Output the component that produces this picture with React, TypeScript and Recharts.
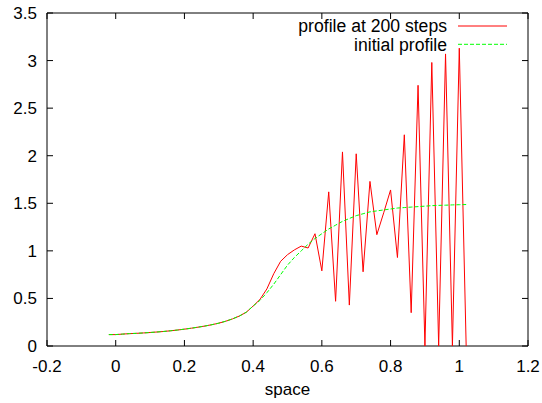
import React from "react";
import { LineChart, Line, XAxis, YAxis, ReferenceArea, Legend } from "recharts";

// ---- data ----
const xs = [
  -0.02, 0.0, 0.02, 0.04, 0.06, 0.08, 0.1, 0.12, 0.14, 0.16, 0.18, 0.2, 0.22, 0.24,
  0.26, 0.28, 0.3, 0.32, 0.34, 0.36, 0.38, 0.4, 0.42, 0.44, 0.46, 0.48, 0.5, 0.52,
  0.54, 0.56, 0.58, 0.6, 0.62, 0.64, 0.66, 0.68, 0.7, 0.72, 0.74, 0.76, 0.78, 0.8,
  0.82, 0.84, 0.86, 0.88, 0.9, 0.92, 0.94, 0.96, 0.98, 1.0, 1.02,
];

const profile200 = [
  0.12, 0.12, 0.125, 0.13, 0.133, 0.137, 0.142, 0.147, 0.153, 0.16, 0.168, 0.177, 0.187, 0.198,
  0.21, 0.224, 0.24, 0.26, 0.285, 0.315, 0.355, 0.42, 0.49, 0.6, 0.76, 0.89, 0.96, 1.01,
  1.05, 1.03, 1.18, 0.79, 1.62, 0.47, 2.04, 0.43, 2.02, 0.78, 1.73, 1.17, 1.4, 1.64,
  0.93, 2.22, 0.35, 2.74, 0.0, 2.98, 0.0, 3.07, 0.0, 3.13, 0.0,
];

const initialProfile = [
  0.12, 0.12, 0.125, 0.13, 0.133, 0.137, 0.142, 0.147, 0.153, 0.16, 0.168, 0.177, 0.187, 0.198,
  0.21, 0.224, 0.24, 0.26, 0.285, 0.315, 0.355, 0.42, 0.48, 0.56, 0.65, 0.75, 0.85, 0.93,
  1.0, 1.07, 1.13, 1.18, 1.23, 1.27, 1.31, 1.34, 1.37, 1.39, 1.41, 1.42, 1.43, 1.44,
  1.45, 1.455, 1.46, 1.465, 1.47, 1.475, 1.478, 1.48, 1.483, 1.485, 1.487,
];

const seriesNames = ["profile at 200 steps", "initial profile"];
const xTicks = [-0.2, 0, 0.2, 0.4, 0.6, 0.8, 1, 1.2];
const yTicks = [0, 0.5, 1, 1.5, 2, 2.5, 3, 3.5];
const xLabel = "space";

const data = xs.map((x, i) => ({ x, red: profile200[i], green: initialProfile[i] }));

// ---- layout ----
const W = 542;
const H = 403;
const MARGIN = { top: 13, right: 14, bottom: 0, left: 0 };
const Y_AXIS_W = 47;
const X_AXIS_H = 57;
const PLOT_TOP = MARGIN.top;
const PLOT_BOTTOM = H - MARGIN.bottom - X_AXIS_H;
const PLOT_LEFT = MARGIN.left + Y_AXIS_W;
const PLOT_RIGHT = W - MARGIN.right;
const TICK_LEN = 6;
const FONT = "'Liberation Sans', Arial, Helvetica, sans-serif";
const FS = 17;
const LEGEND_FS = 17.6;
const AXIS_COLOR = "#000";

const XTick = (props: any) => {
  const { x, payload } = props;
  return (
    <g>
      <line x1={x} y1={PLOT_BOTTOM} x2={x} y2={PLOT_BOTTOM - TICK_LEN} stroke={AXIS_COLOR} />
      <line x1={x} y1={PLOT_TOP} x2={x} y2={PLOT_TOP + TICK_LEN} stroke={AXIS_COLOR} />
      <text x={x} y={PLOT_BOTTOM + 25.5} textAnchor="middle" fontSize={FS} fontFamily={FONT} fill="#000">
        {String(payload.value)}
      </text>
    </g>
  );
};

const YTick = (props: any) => {
  const { y, payload } = props;
  return (
    <g>
      <line x1={PLOT_LEFT} y1={y} x2={PLOT_LEFT + TICK_LEN} y2={y} stroke={AXIS_COLOR} />
      <line x1={PLOT_RIGHT} y1={y} x2={PLOT_RIGHT - TICK_LEN} y2={y} stroke={AXIS_COLOR} />
      <text x={PLOT_LEFT - 10} y={y + 6} textAnchor="end" fontSize={FS} fontFamily={FONT} fill="#000">
        {String(payload.value)}
      </text>
    </g>
  );
};

const LegendContent = (props: any) => {
  const items = [...(props.payload || [])].sort(
    (a: any, b: any) => seriesNames.indexOf(a.value) - seriesNames.indexOf(b.value)
  );
  return (
    <svg width={W} height={60} style={{ display: "block" }}>
      {items.map((it: any, i: number) => (
        <g key={i}>
          <text
            x={447}
            y={32.3 + i * 18.7}
            textAnchor="end"
            fontSize={LEGEND_FS}
            fontFamily={FONT}
            fill="#000"
          >
            {it.value}
          </text>
          <line
            x1={458}
            x2={507}
            y1={26 + i * 18.3}
            y2={26 + i * 18.3}
            stroke={it.color}
            strokeWidth={1}
            strokeDasharray={i === 1 ? "4 2" : undefined}
          />
        </g>
      ))}
    </svg>
  );
};

export default function App() {
  return (
    <div style={{ position: "absolute", left: 0, top: 0, width: W, height: H, background: "#fff" }}>
      <LineChart width={W} height={H} data={data} margin={MARGIN} style={{ fontFamily: FONT }}>
        <XAxis
          dataKey="x"
          type="number"
          domain={[-0.2, 1.2]}
          ticks={xTicks}
          allowDataOverflow
          height={X_AXIS_H}
          tickSize={6}
          tickMargin={2}
          tickLine={false}
          axisLine={false}
          tick={XTick}
          interval={0}
          label={{ value: xLabel, position: "insideBottom", offset: 8, fill: "#000", fontSize: FS, fontFamily: FONT }}
        />
        <YAxis
          type="number"
          domain={[0, 3.5]}
          ticks={yTicks}
          allowDataOverflow
          width={Y_AXIS_W}
          tickSize={6}
          tickMargin={2}
          tickLine={false}
          axisLine={false}
          tick={YTick}
          interval={0}
        />
        <ReferenceArea
          x1={-0.2}
          x2={1.2}
          y1={0}
          y2={3.5}
          fill="none"
          fillOpacity={0}
          stroke={AXIS_COLOR}
          strokeWidth={1}
          ifOverflow="visible"
        />
        <Line
          type="linear"
          dataKey="red"
          name={seriesNames[0]}
          stroke="#ff0000"
          strokeWidth={1}
          dot={false}
          activeDot={false}
          isAnimationActive={false}
        />
        <Line
          type="linear"
          dataKey="green"
          name={seriesNames[1]}
          stroke="#00ff00"
          strokeWidth={1}
          strokeDasharray="4 2"
          dot={false}
          activeDot={false}
          isAnimationActive={false}
        />
        <Legend
          layout="vertical"
          align="center"
          verticalAlign="middle"
          wrapperStyle={{ left: 0, top: 0, width: W, height: 60 }}
          content={LegendContent}
        />
      </LineChart>
    </div>
  );
}
